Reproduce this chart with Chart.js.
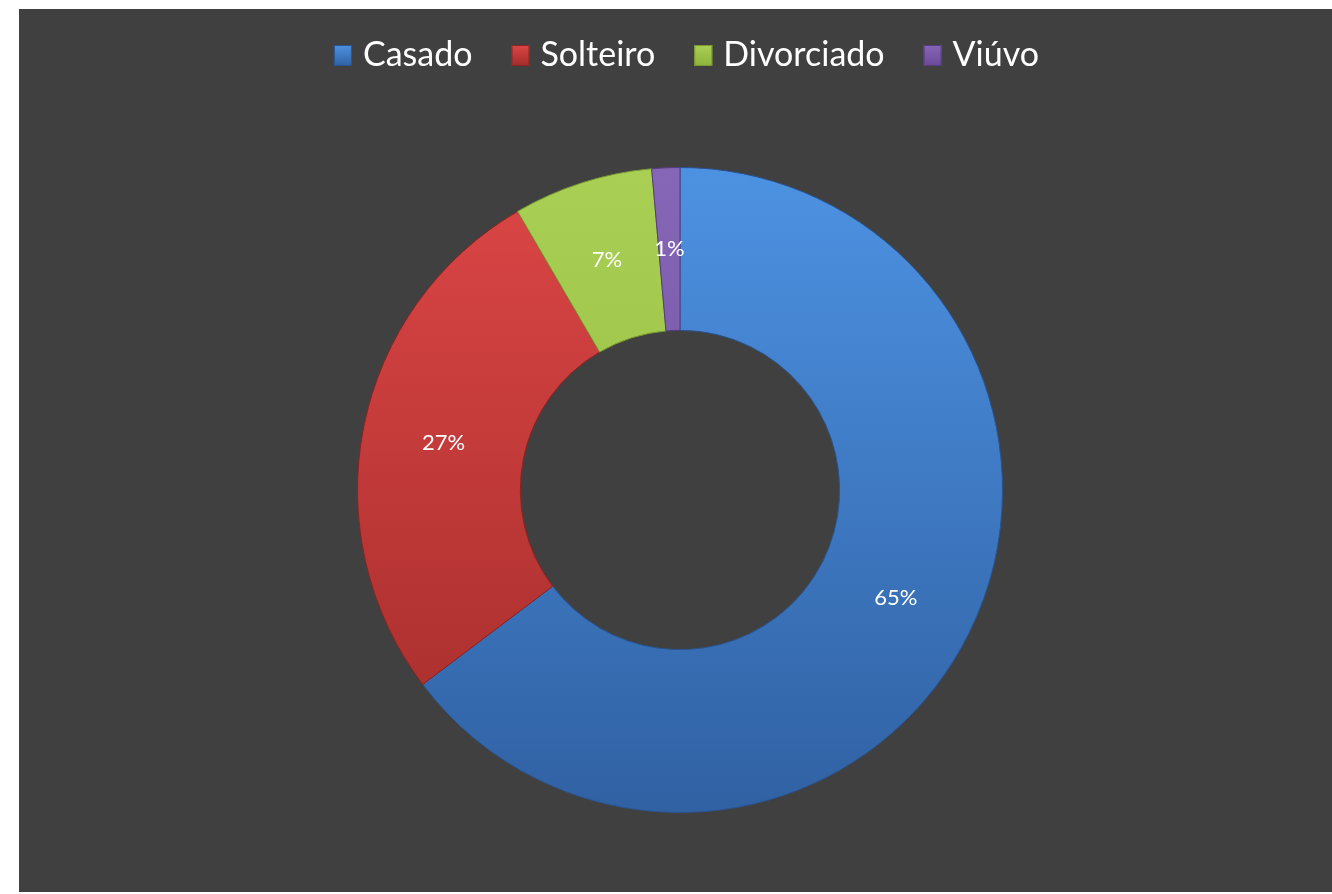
<!DOCTYPE html>
<html><head><meta charset="utf-8">
<script src="https://cdn.jsdelivr.net/npm/chart.js@4.4.1/dist/chart.umd.min.js"></script>
<style>
html,body{margin:0;padding:0;background:#ffffff;}
#panel{position:absolute;left:19px;top:9px;width:1313px;height:883px;background:#404040;}
canvas{display:block;}
</style></head><body>
<div id="panel"><canvas id="c" width="1313" height="883"></canvas></div>
<script>
const categories = ['Casado', 'Solteiro', 'Divorciado', 'Viúvo'];
const values = [64.7, 26.9, 7.0, 1.4];
const percentLabels = ['65%', '27%', '7%', '1%'];
const colorsLight = ['#4d92e2', '#dc4646', '#a9d054', '#8666b6'];
const colorsDark = ['#3061a3', '#a22c2a', '#8fb23c', '#6a4a98'];
const colorsEdge = ['#2a5490', '#8a2422', '#789a30', '#563c80'];

function segGradient(ctx, i) {
  const chart = ctx.chart;
  const area = chart.chartArea;
  if (!area) return colorsLight[i];
  const g = chart.ctx.createLinearGradient(0, area.top, 0, area.bottom);
  g.addColorStop(0, colorsLight[i]);
  g.addColorStop(1, colorsDark[i]);
  return g;
}

const labelPlugin = {
  id: 'pctLabels',
  afterDatasetsDraw(chart) {
    const ctx = chart.ctx;
    const meta = chart.getDatasetMeta(0);
    ctx.save();
    ctx.fillStyle = '#ffffff';
    ctx.font = '22px Lato';
    ctx.textAlign = 'center';
    ctx.textBaseline = 'middle';
    meta.data.forEach((arc, i) => {
      const p = arc.tooltipPosition();
      ctx.fillText(percentLabels[i], p.x, p.y);
    });
    ctx.restore();
  }
};

const legendPlugin = {
  id: 'topLegend',
  afterDraw(chart) {
    const ctx = chart.ctx;
    ctx.save();
    ctx.font = '34px Lato';
    const boxW = 18, boxH = 21, gapBox = 11, gapItem = 39;
    const widths = categories.map(t => ctx.measureText(t).width);
    let total = 0;
    widths.forEach((w, i) => { total += boxW + gapBox + w + (i < widths.length - 1 ? gapItem : 0); });
    let x = 667.5 - total / 2;
    const boxTop = 36, baseline = 57;
    categories.forEach((t, i) => {
      const g = ctx.createLinearGradient(0, boxTop, 0, boxTop + boxH);
      g.addColorStop(0, colorsLight[i]);
      g.addColorStop(1, colorsDark[i]);
      ctx.fillStyle = g;
      ctx.fillRect(x, boxTop, boxW, boxH);
      ctx.strokeStyle = colorsEdge[i];
      ctx.lineWidth = 1;
      ctx.strokeRect(x + 0.5, boxTop + 0.5, boxW - 1, boxH - 1);
      ctx.fillStyle = '#ffffff';
      ctx.textAlign = 'left';
      ctx.textBaseline = 'alphabetic';
      ctx.fillText(t, x + boxW + gapBox, baseline);
      x += boxW + gapBox + widths[i] + gapItem;
    });
    ctx.restore();
  }
};

new Chart(document.getElementById('c'), {
  type: 'doughnut',
  data: {
    labels: categories,
    datasets: [{
      data: values,
      backgroundColor: (ctx) => segGradient(ctx, ctx.dataIndex),
      borderColor: colorsEdge,
      borderWidth: 1
    }]
  },
  options: {
    responsive: false,
    animation: false,
    events: [],
    cutout: '49.5%',
    layout: { padding: { top: 158, bottom: 79, left: 9, right: 0 } },
    plugins: {
      legend: { display: false },
      tooltip: { enabled: false }
    }
  },
  plugins: [labelPlugin, legendPlugin]
});
</script>
</body></html>
